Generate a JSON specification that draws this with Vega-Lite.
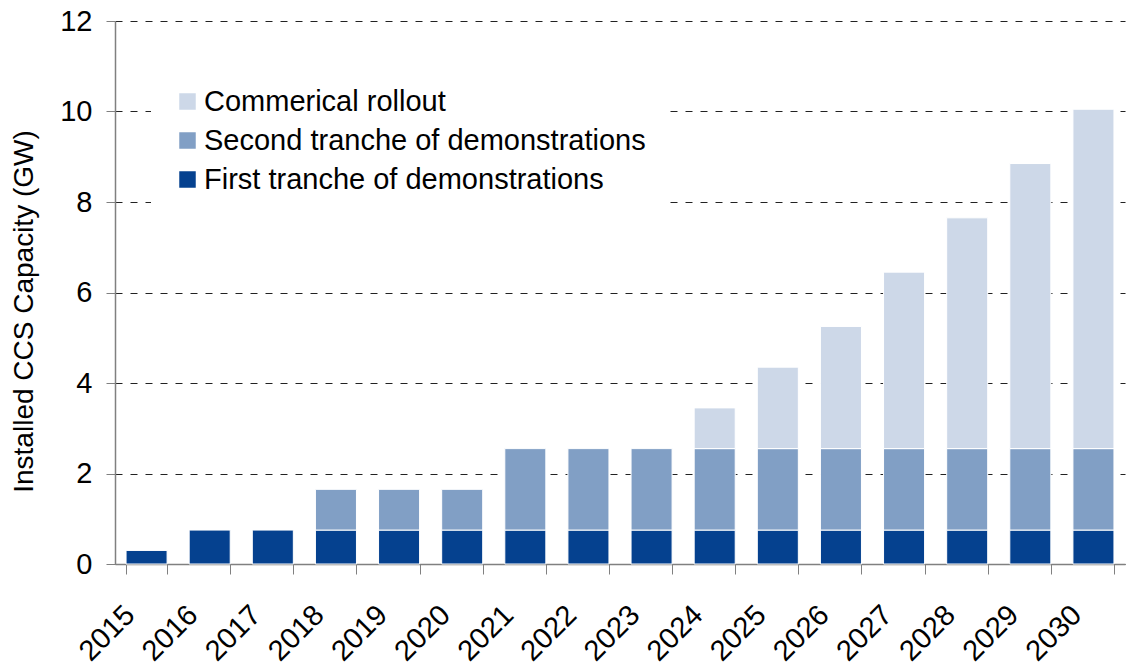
{
  "$schema": "https://vega.github.io/schema/vega-lite/v6.json",
  "width": 1010,
  "height": 543,
  "autosize": {"type": "none"},
  "padding": {"left": 115, "top": 21, "right": 5, "bottom": 104},
  "background": "white",
  "config": {
    "view": {"stroke": null},
    "font": "Liberation Sans"
  },
  "data": {
    "values": [
      {"year": "2015", "series": "First tranche of demonstrations", "ord": 1, "gw": 0.3},
      {"year": "2016", "series": "First tranche of demonstrations", "ord": 1, "gw": 0.75},
      {"year": "2017", "series": "First tranche of demonstrations", "ord": 1, "gw": 0.75},
      {"year": "2018", "series": "First tranche of demonstrations", "ord": 1, "gw": 0.75},
      {"year": "2019", "series": "First tranche of demonstrations", "ord": 1, "gw": 0.75},
      {"year": "2020", "series": "First tranche of demonstrations", "ord": 1, "gw": 0.75},
      {"year": "2021", "series": "First tranche of demonstrations", "ord": 1, "gw": 0.75},
      {"year": "2022", "series": "First tranche of demonstrations", "ord": 1, "gw": 0.75},
      {"year": "2023", "series": "First tranche of demonstrations", "ord": 1, "gw": 0.75},
      {"year": "2024", "series": "First tranche of demonstrations", "ord": 1, "gw": 0.75},
      {"year": "2025", "series": "First tranche of demonstrations", "ord": 1, "gw": 0.75},
      {"year": "2026", "series": "First tranche of demonstrations", "ord": 1, "gw": 0.75},
      {"year": "2027", "series": "First tranche of demonstrations", "ord": 1, "gw": 0.75},
      {"year": "2028", "series": "First tranche of demonstrations", "ord": 1, "gw": 0.75},
      {"year": "2029", "series": "First tranche of demonstrations", "ord": 1, "gw": 0.75},
      {"year": "2030", "series": "First tranche of demonstrations", "ord": 1, "gw": 0.75},
      {"year": "2018", "series": "Second tranche of demonstrations", "ord": 2, "gw": 0.9},
      {"year": "2019", "series": "Second tranche of demonstrations", "ord": 2, "gw": 0.9},
      {"year": "2020", "series": "Second tranche of demonstrations", "ord": 2, "gw": 0.9},
      {"year": "2021", "series": "Second tranche of demonstrations", "ord": 2, "gw": 1.8},
      {"year": "2022", "series": "Second tranche of demonstrations", "ord": 2, "gw": 1.8},
      {"year": "2023", "series": "Second tranche of demonstrations", "ord": 2, "gw": 1.8},
      {"year": "2024", "series": "Second tranche of demonstrations", "ord": 2, "gw": 1.8},
      {"year": "2025", "series": "Second tranche of demonstrations", "ord": 2, "gw": 1.8},
      {"year": "2026", "series": "Second tranche of demonstrations", "ord": 2, "gw": 1.8},
      {"year": "2027", "series": "Second tranche of demonstrations", "ord": 2, "gw": 1.8},
      {"year": "2028", "series": "Second tranche of demonstrations", "ord": 2, "gw": 1.8},
      {"year": "2029", "series": "Second tranche of demonstrations", "ord": 2, "gw": 1.8},
      {"year": "2030", "series": "Second tranche of demonstrations", "ord": 2, "gw": 1.8},
      {"year": "2024", "series": "Commerical rollout", "ord": 3, "gw": 0.9},
      {"year": "2025", "series": "Commerical rollout", "ord": 3, "gw": 1.8},
      {"year": "2026", "series": "Commerical rollout", "ord": 3, "gw": 2.7},
      {"year": "2027", "series": "Commerical rollout", "ord": 3, "gw": 3.9},
      {"year": "2028", "series": "Commerical rollout", "ord": 3, "gw": 5.1},
      {"year": "2029", "series": "Commerical rollout", "ord": 3, "gw": 6.3},
      {"year": "2030", "series": "Commerical rollout", "ord": 3, "gw": 7.5}
    ]
  },
  "mark": {"type": "bar", "stroke": "white", "strokeWidth": 1},
  "encoding": {
    "x": {
      "field": "year",
      "type": "ordinal",
      "scale": {"paddingInner": 0.35, "paddingOuter": 0.175},
      "axis": {
        "title": null,
        "labelAngle": -45,
        "labelAlign": "right",
        "labelBaseline": "top",
        "labelFontSize": 29,
        "labelColor": "black",
        "labelPadding": 26,
        "labelOffset": -27,
        "tickBand": "extent",
        "tickSize": 10,
        "tickColor": "#808080",
        "domainColor": "#808080",
        "domainWidth": 1.5,
        "grid": false
      }
    },
    "y": {
      "field": "gw",
      "type": "quantitative",
      "stack": "zero",
      "scale": {"domain": [0, 12], "nice": false},
      "axis": {
        "title": "Installed CCS Capacity (GW)",
        "titleFontSize": 28,
        "titleFontWeight": "normal",
        "titleColor": "black",
        "titlePadding": 21,
        "titleY": 290,
        "values": [0, 2, 4, 6, 8, 10, 12],
        "labelFontSize": 29,
        "labelColor": "black",
        "labelPadding": 14,
        "tickSize": 9,
        "tickColor": "#808080",
        "domainColor": "#808080",
        "domainWidth": 1.5,
        "grid": true,
        "gridColor": "#222222",
        "gridDash": [7, 8],
        "gridWidth": 1
      }
    },
    "color": {
      "field": "series",
      "type": "nominal",
      "scale": {
        "domain": ["Commerical rollout", "Second tranche of demonstrations", "First tranche of demonstrations"],
        "range": ["#cdd8e8", "#819fc5", "#05418f"]
      },
      "legend": {
        "title": null,
        "orient": "none",
        "legendX": 36,
        "legendY": 44,
        "fillColor": "white",
        "padding": 22,
        "symbolType": "square",
        "symbolSize": 272,
        "symbolStrokeWidth": 0,
        "labelFontSize": 29,
        "labelColor": "black",
        "labelLimit": 700,
        "labelOffset": 2,
        "rowPadding": 9
      }
    },
    "order": {"field": "ord", "type": "quantitative", "sort": "ascending"}
  }
}
